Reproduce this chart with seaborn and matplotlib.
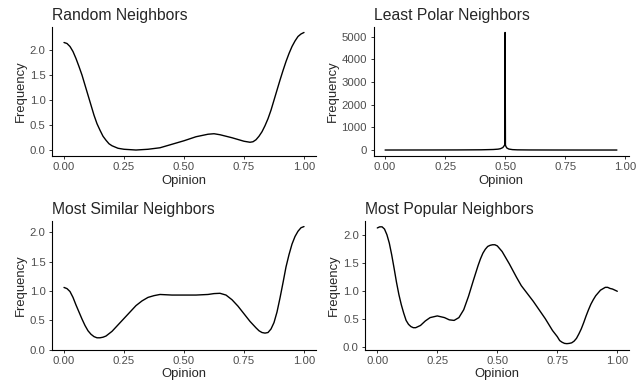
import matplotlib
matplotlib.use("Agg")
import matplotlib.pyplot as plt
import seaborn as sns
import pandas as pd

# density curves
random_x = [0.0, 0.0125, 0.025, 0.0375, 0.05, 0.0625, 0.075, 0.0875, 0.1, 0.1125, 0.125,
            0.1375, 0.15, 0.1625, 0.175, 0.1875, 0.2, 0.225, 0.25, 0.3, 0.35, 0.4, 0.45,
            0.5, 0.55, 0.6, 0.625, 0.65, 0.7, 0.75, 0.775, 0.7875, 0.8, 0.8125, 0.825,
            0.8375, 0.85, 0.8625, 0.875, 0.8875, 0.9, 0.9125, 0.925, 0.9375, 0.95,
            0.9625, 0.975, 0.9875, 1.0]
random_y = [2.15, 2.13, 2.07, 1.97, 1.83, 1.67, 1.5, 1.3, 1.1, 0.9, 0.7,
            0.53, 0.4, 0.28, 0.2, 0.13, 0.09, 0.04, 0.02, 0.005, 0.02, 0.05, 0.12,
            0.19, 0.27, 0.32, 0.33, 0.31, 0.25, 0.18, 0.16, 0.17, 0.21, 0.28, 0.37,
            0.49, 0.63, 0.8, 1.0, 1.2, 1.4, 1.59, 1.77, 1.93, 2.07,
            2.18, 2.27, 2.32, 2.35]

polar_x = [0.0, 0.1, 0.2, 0.3, 0.4, 0.45, 0.47, 0.48, 0.49, 0.495, 0.498, 0.4995, 0.501,
           0.503, 0.507, 0.515, 0.53, 0.55, 0.6, 0.7, 0.8, 0.9, 0.965]
polar_y = [2, 3, 4, 6, 12, 25, 40, 60, 110, 180, 230, 5190, 220, 160, 90, 45, 20, 10, 5, 3,
           2, 2, 2]

similar_x = [0.0, 0.0125, 0.025, 0.0375, 0.05, 0.0625, 0.075, 0.0875, 0.1, 0.1125, 0.125,
             0.1375, 0.15, 0.1625, 0.175, 0.1875, 0.2, 0.225, 0.25, 0.275, 0.3, 0.325,
             0.35, 0.375, 0.4, 0.45, 0.5, 0.55, 0.6, 0.625, 0.65, 0.675, 0.7, 0.725,
             0.75, 0.775, 0.8, 0.8125, 0.825, 0.8375, 0.85, 0.8625, 0.875, 0.8875, 0.9,
             0.9125, 0.925, 0.9375, 0.95, 0.9625, 0.975, 0.9875, 1.0]
similar_y = [1.06, 1.04, 0.99, 0.89, 0.76, 0.64, 0.52, 0.41, 0.32, 0.26, 0.22,
             0.2, 0.2, 0.21, 0.23, 0.27, 0.31, 0.42, 0.53, 0.64, 0.75, 0.83,
             0.89, 0.92, 0.94, 0.93, 0.93, 0.93, 0.94, 0.955, 0.96, 0.93, 0.85, 0.74,
             0.61, 0.48, 0.37, 0.32, 0.29, 0.28, 0.29, 0.35, 0.46, 0.64, 0.88,
             1.14, 1.41, 1.62, 1.8, 1.93, 2.02, 2.08, 2.1]

popular_x = [0.0, 0.01, 0.02, 0.03, 0.04, 0.05, 0.06, 0.07, 0.08, 0.09, 0.1, 0.11, 0.12,
             0.13, 0.14, 0.15, 0.16, 0.18, 0.2, 0.22, 0.25, 0.28, 0.3, 0.32, 0.34, 0.36,
             0.38, 0.4, 0.42, 0.43, 0.44, 0.45, 0.46, 0.47, 0.48, 0.49, 0.5, 0.52, 0.55,
             0.58, 0.6, 0.65, 0.7, 0.73, 0.75, 0.76, 0.77, 0.78, 0.79, 0.8, 0.81, 0.82,
             0.83, 0.84, 0.85, 0.86, 0.87, 0.88, 0.89, 0.9, 0.91, 0.93, 0.95, 0.96, 0.97,
             0.98, 0.99, 1.0]
popular_y = [2.12, 2.14, 2.14, 2.1, 2.0, 1.85, 1.64, 1.4, 1.15, 0.93, 0.75, 0.6, 0.47,
             0.4, 0.36, 0.34, 0.34, 0.38, 0.46, 0.52, 0.55, 0.52, 0.48, 0.47, 0.52, 0.66,
             0.9, 1.18, 1.45, 1.57, 1.67, 1.74, 1.79, 1.81, 1.82, 1.82, 1.8, 1.7, 1.48,
             1.24, 1.09, 0.81, 0.5, 0.29, 0.18, 0.11, 0.08, 0.06, 0.055, 0.06, 0.07, 0.1,
             0.15, 0.23, 0.32, 0.43, 0.55, 0.66, 0.76, 0.84, 0.91, 1.01, 1.06, 1.06, 1.04,
             1.03, 1.01, 0.99]

titles = ["Random Neighbors", "Least Polar Neighbors", "Most Similar Neighbors", "Most Popular Neighbors"]
series = [(random_x, random_y), (polar_x, polar_y), (similar_x, similar_y), (popular_x, popular_y)]
xticks = [0.0, 0.25, 0.5, 0.75, 1.0]
xticklabels = ["0.00", "0.25", "0.50", "0.75", "1.00"]
density_yticks = [0.0, 0.5, 1.0, 1.5, 2.0]
polar_yticks = [0, 1000, 2000, 3000, 4000, 5000]
yticks = [density_yticks, polar_yticks, density_yticks, density_yticks]

sns.set_theme(style="ticks")
plt.rcParams['font.family'] = ['Liberation Sans', 'DejaVu Sans']

fig = plt.figure(figsize=(6.42, 3.81), dpi=100)
W, H = 642, 381
# axes boxes in pixels: left, top, right, bottom
boxes = [(52, 26.6, 316, 155.9), (373.5, 26.6, 628.5, 155.9),
         (52, 221, 316, 349.5), (365.3, 221, 629.3, 349.5)]

for (x, y), title, yt, (l, t, r, b) in zip(series, titles, yticks, boxes):
    ax = fig.add_axes([l / W, 1 - b / H, (r - l) / W, (b - t) / H])
    df = pd.DataFrame({"Opinion": x, "Frequency": y})
    sns.lineplot(data=df, x="Opinion", y="Frequency", ax=ax, color="black", linewidth=1.0)
    ax.margins(x=0.05, y=0.05)
    ax.set_xticks(xticks)
    ax.set_xticklabels(xticklabels)
    ax.set_yticks(yt)
    sns.despine(ax=ax)
    for s in ["left", "bottom"]:
        ax.spines[s].set_linewidth(0.8)
        ax.spines[s].set_color("black")
    ax.tick_params(axis="both", length=2.5, width=0.7, color="#333333",
                   labelcolor="#4D4D4D", labelsize=8.2, pad=2.2)
    ax.set_xlabel("Opinion", fontsize=9.4, labelpad=1.5)
    ax.set_ylabel("Frequency", fontsize=9.4, labelpad=2)
    ax.set_title(title, fontsize=11.3, loc="left", pad=5)

fig.savefig("out.png", dpi=100)
